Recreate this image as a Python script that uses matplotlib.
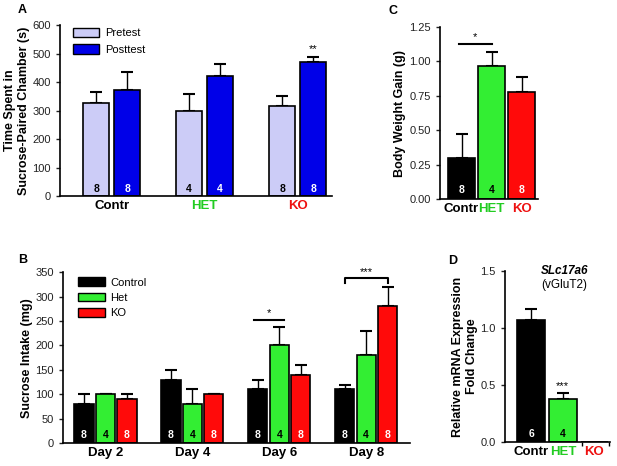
import numpy as np
import matplotlib
matplotlib.use('Agg')
import matplotlib.pyplot as plt
from matplotlib.patches import Patch

plt.rcParams['font.family'] = ['Liberation Sans', 'DejaVu Sans']

# colours
LAV = '#ccccf7'
BLUE = '#0000e8'
GREEN = '#33ee33'
RED = '#ff0a0a'
BLACK = '#000000'

# Panel A data
groups_a = ['Contr', 'HET', 'KO']
pre_a = [328, 300, 315]
pre_a_err = [37, 58, 37]
post_a = [373, 420, 470]
post_a_err = [64, 42, 20]
n_pre_a = ['8', '4', '8']
n_post_a = ['8', '4', '8']

# Panel B data
days_b = ['Day 2', 'Day 4', 'Day 6', 'Day 8']
ctrl_b = [80, 130, 110, 110]
ctrl_b_err = [20, 20, 20, 10]
het_b = [100, 80, 200, 180]
het_b_err = [0, 30, 38, 50]
ko_b = [90, 100, 140, 280]
ko_b_err = [10, 0, 20, 40]
n_b = ['8', '4', '8']

# Panel C data
groups_c = ['Contr', 'HET', 'KO']
gain_c = [0.30, 0.97, 0.775]
gain_c_err = [0.17, 0.10, 0.11]
n_c = ['8', '4', '8']

# Panel D data
groups_d = ['Contr', 'HET', 'KO']
expr_d = [1.07, 0.38, 0.0]
expr_d_err = [0.10, 0.05, 0.0]
n_d = ['6', '4', '']

label_colors = [BLACK, '#22cc22', '#ee1111']

fig = plt.figure(figsize=(6.17, 4.66), dpi=100)

def style(ax):
    ax.spines['top'].set_visible(False)
    ax.spines['right'].set_visible(False)
    ax.spines['left'].set_linewidth(1.2)
    ax.spines['bottom'].set_linewidth(1.2)
    ax.tick_params(axis='y', labelsize=8, direction='out', length=3, width=1, colors='#222222')
    ax.tick_params(axis='x', length=0, labelsize=9.5, pad=3)

def ebar(ax, x, y, e):
    ax.errorbar(x, y, yerr=[np.zeros(len(y)), e], fmt='none', ecolor='black',
                elinewidth=1, capsize=4, capthick=1.5, zorder=1)

def nlabels(ax, x, labels, colors, y):
    for xi, lab, c in zip(x, labels, colors):
        ax.text(xi, y, lab, ha='center', va='bottom', fontsize=7.5,
                fontweight='bold', color=c)

def xlabels(ax, x, names):
    ax.set_xticks(x)
    ax.set_xticklabels(names, fontweight='bold')
    for t, c in zip(ax.get_xticklabels(), label_colors):
        t.set_color(c)

# ---------- A ----------
ax1 = fig.add_axes([0.097, 0.579, 0.441, 0.367])
x = np.arange(3)
w = 0.28
off = 0.167
ax1.bar(x - off, pre_a, w, color=LAV, edgecolor='black', linewidth=1.2, zorder=2)
ax1.bar(x + off, post_a, w, color=BLUE, edgecolor='black', linewidth=1.2, zorder=2)
ebar(ax1, x - off, pre_a, pre_a_err)
ebar(ax1, x + off, post_a, post_a_err)
nlabels(ax1, x - off, n_pre_a, ['black'] * 3, 8)
nlabels(ax1, x + off, n_post_a, ['white'] * 3, 8)
ax1.text(2 + off, 500, '**', ha='center', va='bottom', fontsize=8)
ax1.set_ylim(0, 600)
ax1.set_xlim(-0.56, 2.37)
ax1.set_yticks([0, 100, 200, 300, 400, 500, 600])
style(ax1)
xlabels(ax1, x, groups_a)
ax1.set_ylabel('Time Spent in\nSucrose-Paired Chamber (s)', fontsize=9,
               fontweight='bold', labelpad=2)
ax1.legend(handles=[Patch(facecolor=LAV, edgecolor='black', label='Pretest'),
                    Patch(facecolor=BLUE, edgecolor='black', label='Posttest')],
           loc='upper left', bbox_to_anchor=(0.048, 0.985), frameon=False,
           borderaxespad=0, borderpad=0, fontsize=8, handlelength=2.35,
           handleheight=0.9, labelspacing=0.55, handletextpad=0.55)
fig.text(0.029, 0.972, 'A', fontsize=9, fontweight='bold')

# ---------- C ----------
ax3 = fig.add_axes([0.713, 0.573, 0.159, 0.369])
xc = np.arange(3)
ax3.bar(xc, gain_c, 0.9, color=[BLACK, GREEN, RED], edgecolor='black',
        linewidth=1.2, zorder=2)
ebar(ax3, xc, gain_c, gain_c_err)
nlabels(ax3, xc, n_c, ['white', 'black', 'white'], 0.03)
ax3.plot([-0.1, 1.0], [1.13, 1.13], color='black', lw=1.5)
ax3.text(0.45, 1.14, '*', ha='center', va='bottom', fontsize=8)
ax3.set_ylim(0, 1.25)
ax3.set_xlim(-0.72, 2.55)
ax3.set_yticks([0, 0.25, 0.5, 0.75, 1.0, 1.25])
ax3.set_yticklabels(['0.00', '0.25', '0.50', '0.75', '1.00', '1.25'])
style(ax3)
xlabels(ax3, xc, groups_c)
ax3.set_ylabel('Body Weight Gain (g)', fontsize=9, fontweight='bold', labelpad=2)
fig.text(0.629, 0.97, 'C', fontsize=9, fontweight='bold')

# ---------- B ----------
ax2 = fig.add_axes([0.102, 0.049, 0.562, 0.367])
xb = np.arange(4)
wb = 0.22
ob = 0.247
ax2.bar(xb - ob, ctrl_b, wb, color=BLACK, edgecolor='black', linewidth=1.2, zorder=2)
ax2.bar(xb, het_b, wb, color=GREEN, edgecolor='black', linewidth=1.2, zorder=2)
ax2.bar(xb + ob, ko_b, wb, color=RED, edgecolor='black', linewidth=1.2, zorder=2)
ebar(ax2, xb - ob, ctrl_b, ctrl_b_err)
ebar(ax2, xb, het_b, het_b_err)
ebar(ax2, xb + ob, ko_b, ko_b_err)
for d in range(4):
    nlabels(ax2, [d - ob, d, d + ob], n_b, ['white', 'black', 'white'], 6)
ax2.plot([2 - ob - 0.05, 2 + 0.05], [252, 252], color='black', lw=1.5)
ax2.text(2 - ob / 2, 256, '*', ha='center', va='bottom', fontsize=8)
ax2.plot([3 - ob, 3 - ob, 3 + ob, 3 + ob], [328, 338, 338, 328], color='black', lw=1.5)
ax2.text(3, 340, '***', ha='center', va='bottom', fontsize=8)
ax2.set_ylim(0, 350)
ax2.set_xlim(-0.49, 3.5)
ax2.set_yticks([0, 50, 100, 150, 200, 250, 300, 350])
style(ax2)
ax2.set_xticks(xb)
ax2.set_xticklabels(days_b, fontweight='bold')
ax2.set_ylabel('Sucrose Intake (mg)', fontsize=9, fontweight='bold', labelpad=2)
ax2.legend(handles=[Patch(facecolor=BLACK, edgecolor='black', label='Control'),
                    Patch(facecolor=GREEN, edgecolor='black', label='Het'),
                    Patch(facecolor=RED, edgecolor='black', label='KO')],
           loc='upper left', bbox_to_anchor=(0.043, 0.97), frameon=False,
           borderaxespad=0, borderpad=0, fontsize=8, handlelength=2.45,
           handleheight=0.85, labelspacing=0.45, handletextpad=0.45)
fig.text(0.029, 0.436, 'B', fontsize=9, fontweight='bold')

# ---------- D ----------
ax4 = fig.add_axes([0.818, 0.0515, 0.171, 0.367])
xd = np.arange(3)
ax4.bar(xd, expr_d, 0.87, color=[BLACK, GREEN, RED], edgecolor='black',
        linewidth=1.2, zorder=2)
ebar(ax4, xd[:2], expr_d[:2], expr_d_err[:2])
nlabels(ax4, xd, n_d, ['white', 'black', 'white'], 0.03)
ax4.text(1, 0.45, '***', ha='center', va='bottom', fontsize=8)
ax4.text(1.05, 1.5, 'SLc17a6', ha='center', va='center', fontsize=8.5,
         fontweight='bold', style='italic')
ax4.text(1.05, 1.38, '(vGluT2)', ha='center', va='center', fontsize=8.5)
ax4.set_ylim(0, 1.5)
ax4.set_xlim(-0.84, 2.5)
ax4.set_yticks([0, 0.5, 1.0, 1.5])
style(ax4)
xlabels(ax4, xd, groups_d)
ax4.set_xticks([1.6, 2.45], minor=True)
ax4.tick_params(axis='x', which='minor', length=3, width=1, direction='out')
ax4.set_ylabel('Relative mRNA Expression\nFold Change', fontsize=9,
               fontweight='bold', labelpad=2)
fig.text(0.726, 0.433, 'D', fontsize=9, fontweight='bold')

fig.savefig('out.png', dpi=100)
